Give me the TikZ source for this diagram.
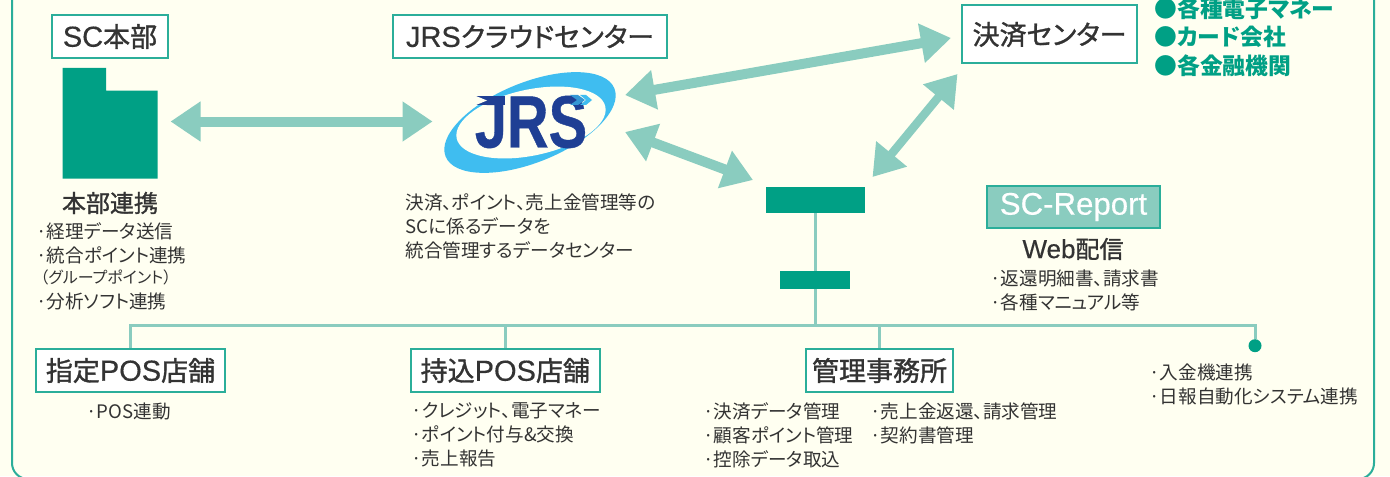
\documentclass[tikz,border=0pt]{standalone}
\usepackage{fontspec}
\usepackage{xcolor}
\usetikzlibrary{arrows.meta}
\setmainfont{Noto Sans CJK JP}[RawFeature=+palt]
\newfontfamily\medfont{Noto Sans CJK JP}[RawFeature={+palt},FakeBold=1.2]
\newfontfamily\wide{Liberation Sans}[FakeBold=0.4]
\newfontfamily\logofont{Liberation Sans}[FakeBold=0.6]
\definecolor{paper}{HTML}{FFFFF1}
\definecolor{rim}{HTML}{2BAE9A}
\definecolor{mint}{HTML}{8ACCBF}
\definecolor{jade}{HTML}{00A085}
\definecolor{ink}{HTML}{333333}
\definecolor{navy}{HTML}{1F3F94}
\definecolor{sky}{HTML}{3FBDF0}
\tikzset{
  title/.style={draw=rim, fill=white, line width=1pt, text=ink, inner sep=0pt, font=\medfont\fontsize{13.5}{16}\selectfont},
  flow/.style={draw=mint, line width=5pt, {Triangle[length=15pt,width=19pt]}-{Triangle[length=15pt,width=19pt]}},
  wire/.style={draw=mint, line width=1.5pt},
  bar/.style={fill=jade, inner sep=0pt},
  lab/.style={text=ink, anchor=west, align=left, inner sep=0pt, font=\fontsize{9.3}{12}\selectfont},
  head/.style={text=ink, inner sep=0pt, font=\medfont\fontsize{12}{14}\selectfont},
  brand/.style={text=jade, anchor=west, align=left, inner sep=0pt, font=\bfseries\fontsize{11.4}{14.3}\selectfont},
}
\begin{document}
\begin{tikzpicture}[x=0.5pt,y=-0.5pt]
  \useasboundingbox (0,0) rectangle (1390,476);
  \clip (0,0) rectangle (1390,476);
  \fill[paper] (0,0) rectangle (1390,476);
  \draw[rim, line width=1pt, rounded corners=8pt] (12,-40) rectangle (1374,479);

  % top row
  \node[title, minimum width=58pt, minimum height=21.5pt] (hqname) at (110,36.5) {{\wide\fontsize{14.5}{16}\selectfont SC}本部};
  \node[title, minimum width=137pt, minimum height=21.5pt] (cloudname) at (530,36.5) {{\wide\fontsize{14.5}{16}\selectfont JRS}クラウドセンター};
  \node[title, minimum width=87.5pt, minimum height=29pt] (payname) at (1049.5,34.5) {決済センター};
  \node[brand] (paylist) at (1154,37) {●各種電子マネー\\●カード会社\\●各金融機関};

  % head office block
  \fill[jade] (62.5,68) -- (106,68) -- (106,90.7) -- (157.6,90.7) -- (157.6,178.7) -- (62.5,178.7) -- cycle;
  \node[head] (hqhead) at (110,203) {本部連携};
  \node[lab] (hqlist) at (36,243) {·経理データ送信\\·統合ポイント連携};
  \node[lab, font=\fontsize{8}{9}\selectfont] (hqnote) at (40,277) {（グループポイント）};
  \node[lab] (hqlast) at (36,301) {·分析ソフト連携};

  % logo
  \fill[sky] (530,122.5) circle [x radius=91, y radius=40, rotate=22];
  \fill[paper] (531,122.5) circle [x radius=76, y radius=33, rotate=12];
  \node[text=navy, inner sep=0pt, font=\logofont\bfseries\fontsize{37}{37}\selectfont] (logo) at (531,122) {\scalebox{0.78}[1]{JRS}};
  \fill[navy] (476,96) -- (505,96) -- (505,105) -- (476,105) -- cycle;
  \fill[paper] (476,96) -- (487,100.5) -- (476,105) -- cycle;
  \fill[sky!70!navy] (570,95) -- (578,95) -- (585,100) -- (578,105) -- (570,105) -- (577,100) -- cycle;
  \fill[sky] (580,95) -- (586,95) -- (592,100) -- (586,105) -- (580,105) -- (586,100) -- cycle;
  \node[lab] (cloudlist) at (405,226) {決済、ポイント、売上金管理等の\\SCに係るデータを\\統合管理するデータセンター};

  % hubs and report
  \node[bar, minimum width=49.5pt, minimum height=13pt] (hub) at (815,200) {};
  \node[bar, minimum width=35pt, minimum height=9pt] (subhub) at (815,280) {};
  \node[title, fill=mint, text=white, font=\wide\fontsize{15.6}{18}\selectfont, minimum width=86.5pt, minimum height=21pt] (report) at (1073.5,207) {SC-Report};
  \node[head] (webhead) at (1073,249) {{\wide\fontsize{13}{14}\selectfont Web}配信};
  \node[lab] (weblist) at (990,290) {·返還明細書、請求書\\·各種マニュアル等};

  % bottom row
  \node[title, minimum width=94.5pt, minimum height=21.5pt] (fixedpos) at (130.5,370.5) {指定{\wide\fontsize{14.5}{16}\selectfont POS}店舗};
  \node[title, minimum width=94.5pt, minimum height=21.5pt] (ownpos) at (505.3,370.5) {持込{\wide\fontsize{14.5}{16}\selectfont POS}店舗};
  \node[title, minimum width=73.5pt, minimum height=21.5pt] (office) at (879.5,370.5) {管理事務所};
  \node[circle, fill=jade, inner sep=0pt, minimum size=6.5pt] (cash) at (1255,345.7) {};
  \node[lab] (fixedlist) at (86,411) {·POS連動};
  \node[lab] (ownlist) at (411,435) {·クレジット、電子マネー\\·ポイント付与\&交換\\·売上報告};
  \node[lab] (officea) at (703,435) {·決済データ管理\\·顧客ポイント管理\\·控除データ取込};
  \node[lab] (officeb) at (870,423) {·売上金返還、請求管理\\·契約書管理};
  \node[lab] (cashlist) at (1149,384.5) {·入金機連携\\·日報自動化システム連携};

  % wires
  \coordinate (bus) at (815,325.3);
  \draw[wire] (hub) -- (subhub);
  \draw[wire] (subhub) -- (bus);
  \draw[wire] (fixedpos.north) |- (bus) -| (cash);
  \draw[wire] (ownpos.north) -- (ownpos.north |- bus);
  \draw[wire] (office.north) -- (office.north |- bus);

  % big arrows
  \coordinate (hqtip) at (170.5,121.5);
  \coordinate (logol) at (432.6,121.5);
  \coordinate (logoa) at (625,95);
  \coordinate (payl) at (951,38);
  \coordinate (logob) at (625,132);
  \coordinate (hubl) at (753,180);
  \coordinate (hubr) at (872.5,177);
  \coordinate (payb) at (957.5,74);
  \draw[flow] (hqtip) -- (logol);
  \draw[flow] (logoa) -- (payl);
  \draw[flow] (logob) -- (hubl);
  \draw[flow, line width=4.2pt] (hubr) -- (payb);
\end{tikzpicture}
\end{document}
